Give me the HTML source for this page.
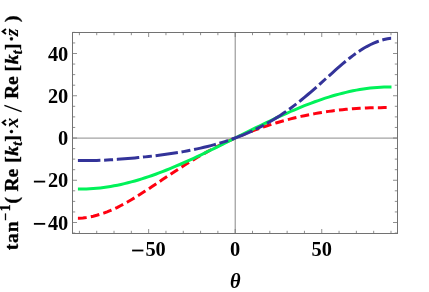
<!DOCTYPE html>
<html><head><meta charset="utf-8"><style>
html,body{margin:0;padding:0;background:#fff;}
svg{display:block;will-change:transform}
text{font-family:"Liberation Serif",serif;font-weight:bold;fill:#000;}
</style></head><body>
<svg width="429" height="292" viewBox="0 0 429 292">
<rect width="429" height="292" fill="#fff"/>
<path d="M72.5,138.2H397.5M235.25,32.5V233.5" stroke="#a4a4a4" stroke-width="1.3" fill="none"/>
<path d="M77.91,218.30 L79.41,218.30 L82.87,217.98 L86.33,217.52 L89.80,216.92 L93.26,216.18 L96.72,215.30 L100.18,214.28 L103.64,213.13 L107.11,211.85 L110.57,210.44 L114.03,208.91 L117.49,207.28 L120.95,205.53 L124.42,203.69 L127.88,201.76 L131.34,199.75 L134.80,197.67 L138.26,195.53 L141.73,193.34 L145.19,191.11 L148.65,188.84 L152.11,186.54 L155.57,184.23 L159.04,181.92 L162.50,179.60 L165.96,177.28 L169.42,174.98 L172.88,172.70 L176.35,170.44 L179.81,168.20 L183.27,166.00 L186.73,163.83 L190.19,161.70 L193.66,159.61 L197.12,157.56 L200.58,155.55 L204.04,153.59 L207.50,151.67 L210.97,149.80 L214.43,147.98 L217.89,146.20 L221.35,144.47 L224.81,142.78 L228.28,141.14 L231.74,139.55 L235.20,138.00 L238.66,136.50 L242.12,135.03 L245.59,133.62 L249.05,132.24 L252.51,130.91 L255.97,129.62 L259.43,128.37 L262.90,127.16 L266.36,125.99 L269.82,124.86 L273.28,123.77 L276.74,122.72 L280.21,121.71 L283.67,120.73 L287.13,119.80 L290.59,118.89 L294.05,118.03 L297.52,117.20 L300.98,116.41 L304.44,115.66 L307.90,114.94 L311.36,114.26 L314.83,113.61 L318.29,113.00 L321.75,112.43 L325.21,111.88 L328.67,111.38 L332.14,110.90 L335.60,110.47 L339.06,110.06 L342.52,109.69 L345.98,109.35 L349.45,109.04 L352.91,108.77 L356.37,108.53 L359.83,108.31 L363.29,108.13 L366.76,107.98 L370.22,107.85 L373.68,107.75 L377.14,107.68 L380.60,107.63 L384.07,107.61 L387.53,107.61 L390.39,107.63" stroke="#ff0010" stroke-width="3" fill="none" stroke-dasharray="8.8 4.2"/>
<path d="M77.91,189.11 L79.41,189.11 L82.87,189.08 L86.33,188.98 L89.80,188.81 L93.26,188.58 L96.72,188.29 L100.18,187.93 L103.64,187.50 L107.11,187.01 L110.57,186.46 L114.03,185.85 L117.49,185.18 L120.95,184.45 L124.42,183.66 L127.88,182.82 L131.34,181.92 L134.80,180.96 L138.26,179.96 L141.73,178.91 L145.19,177.80 L148.65,176.65 L152.11,175.46 L155.57,174.22 L159.04,172.94 L162.50,171.62 L165.96,170.27 L169.42,168.87 L172.88,167.45 L176.35,165.99 L179.81,164.50 L183.27,162.98 L186.73,161.43 L190.19,159.86 L193.66,158.27 L197.12,156.66 L200.58,155.02 L204.04,153.37 L207.50,151.70 L210.97,150.02 L214.43,148.33 L217.89,146.62 L221.35,144.91 L224.81,143.19 L228.28,141.46 L231.74,139.73 L235.20,138.00 L238.66,136.27 L242.12,134.54 L245.59,132.81 L249.05,131.09 L252.51,129.38 L255.97,127.67 L259.43,125.98 L262.90,124.30 L266.36,122.63 L269.82,120.98 L273.28,119.34 L276.74,117.73 L280.21,116.14 L283.67,114.57 L287.13,113.02 L290.59,111.50 L294.05,110.01 L297.52,108.55 L300.98,107.13 L304.44,105.73 L307.90,104.38 L311.36,103.06 L314.83,101.78 L318.29,100.54 L321.75,99.35 L325.21,98.20 L328.67,97.09 L332.14,96.04 L335.60,95.04 L339.06,94.08 L342.52,93.18 L345.98,92.34 L349.45,91.55 L352.91,90.82 L356.37,90.15 L359.83,89.54 L363.29,88.99 L366.76,88.50 L370.22,88.07 L373.68,87.71 L377.14,87.42 L380.60,87.19 L384.07,87.02 L387.53,86.92 L390.99,86.89 L391.49,86.89" stroke="#00f259" stroke-width="3" fill="none"/>
<path d="M77.91,160.53 L79.41,160.53 L82.87,160.60 L86.33,160.61 L89.80,160.59 L93.26,160.53 L96.72,160.44 L100.18,160.31 L103.64,160.16 L107.11,159.99 L110.57,159.79 L114.03,159.57 L117.49,159.34 L120.95,159.08 L124.42,158.81 L127.88,158.53 L131.34,158.23 L134.80,157.91 L138.26,157.58 L141.73,157.24 L145.19,156.87 L148.65,156.50 L152.11,156.10 L155.57,155.69 L159.04,155.26 L162.50,154.80 L165.96,154.33 L169.42,153.84 L172.88,153.32 L176.35,152.77 L179.81,152.20 L183.27,151.61 L186.73,150.98 L190.19,150.32 L193.66,149.62 L197.12,148.90 L200.58,148.13 L204.04,147.33 L207.50,146.48 L210.97,145.59 L214.43,144.66 L217.89,143.68 L221.35,142.65 L224.81,141.57 L228.28,140.44 L231.74,139.25 L235.20,138.00 L238.66,136.69 L242.12,135.32 L245.59,133.89 L249.05,132.38 L252.51,130.81 L255.97,129.16 L259.43,127.44 L262.90,125.64 L266.36,123.76 L269.82,121.80 L273.28,119.75 L276.74,117.62 L280.21,115.40 L283.67,113.09 L287.13,110.69 L290.59,108.20 L294.05,105.63 L297.52,102.97 L300.98,100.23 L304.44,97.41 L307.90,94.51 L311.36,91.55 L314.83,88.54 L318.29,85.47 L321.75,82.37 L325.21,79.25 L328.67,76.13 L332.14,73.01 L335.60,69.93 L339.06,66.89 L342.52,63.92 L345.98,61.04 L349.45,58.26 L352.91,55.60 L356.37,53.09 L359.83,50.73 L363.29,48.55 L366.76,46.55 L370.22,44.75 L373.68,43.14 L377.14,41.75 L380.60,40.56 L384.07,39.58 L387.53,38.81 L390.99,38.23 L391.49,38.23" stroke="#333399" stroke-width="3" fill="none" stroke-dasharray="22.5 3.7 9 3.75"/>
<rect x="72.5" y="32.5" width="325.0" height="201.0" fill="none" stroke="#727272" stroke-width="1"/>
<path d="M79.41,233.5v-2.7M79.41,32.5v2.7M96.72,233.5v-2.7M96.72,32.5v2.7M114.03,233.5v-2.7M114.03,32.5v2.7M131.34,233.5v-2.7M131.34,32.5v2.7M148.65,233.5v-4.5M148.65,32.5v4.5M165.96,233.5v-2.7M165.96,32.5v2.7M183.27,233.5v-2.7M183.27,32.5v2.7M200.58,233.5v-2.7M200.58,32.5v2.7M217.89,233.5v-2.7M217.89,32.5v2.7M235.20,233.5v-4.5M235.20,32.5v4.5M252.51,233.5v-2.7M252.51,32.5v2.7M269.82,233.5v-2.7M269.82,32.5v2.7M287.13,233.5v-2.7M287.13,32.5v2.7M304.44,233.5v-2.7M304.44,32.5v2.7M321.75,233.5v-4.5M321.75,32.5v4.5M339.06,233.5v-2.7M339.06,32.5v2.7M356.37,233.5v-2.7M356.37,32.5v2.7M373.68,233.5v-2.7M373.68,32.5v2.7M390.99,233.5v-2.7M390.99,32.5v2.7M72.5,233.06h2.7M397.5,233.06h-2.7M72.5,222.50h4.5M397.5,222.50h-4.5M72.5,211.94h2.7M397.5,211.94h-2.7M72.5,201.38h2.7M397.5,201.38h-2.7M72.5,190.81h2.7M397.5,190.81h-2.7M72.5,180.25h4.5M397.5,180.25h-4.5M72.5,169.69h2.7M397.5,169.69h-2.7M72.5,159.12h2.7M397.5,159.12h-2.7M72.5,148.56h2.7M397.5,148.56h-2.7M72.5,138.00h4.5M397.5,138.00h-4.5M72.5,127.44h2.7M397.5,127.44h-2.7M72.5,116.88h2.7M397.5,116.88h-2.7M72.5,106.31h2.7M397.5,106.31h-2.7M72.5,95.75h4.5M397.5,95.75h-4.5M72.5,85.19h2.7M397.5,85.19h-2.7M72.5,74.62h2.7M397.5,74.62h-2.7M72.5,64.06h2.7M397.5,64.06h-2.7M72.5,53.50h4.5M397.5,53.50h-4.5M72.5,42.94h2.7M397.5,42.94h-2.7M72.5,32.38h2.7M397.5,32.38h-2.7" stroke="#727272" stroke-width="0.8" fill="none"/>
<g font-size="20.4px">
<text x="68.3" y="60.65" text-anchor="end">40</text>
<text x="68.3" y="102.90" text-anchor="end">20</text>
<text x="68.3" y="145.15" text-anchor="end">0</text>
<text x="68.3" y="187.40" text-anchor="end">20</text><rect x="33.9" y="180.70" width="11.3" height="1.8"/>
<text x="68.3" y="229.65" text-anchor="end">40</text><rect x="33.9" y="222.95" width="11.3" height="1.8"/>
<rect x="132.10" y="249.60" width="11.3" height="1.8"/><text x="145.40" y="256.3">50</text>
<text x="230.10" y="256.3">0</text>
<text x="311.50" y="256.3">50</text>
<text x="235.3" y="287.6" font-style="italic" text-anchor="middle">θ</text>
</g>
<g transform="translate(18.2,250) rotate(-90)" font-size="19.5px" stroke="#000" stroke-width="0.35">
<text x="-0.3" y="0" letter-spacing="0.9">tan</text>
<text x="29.2" y="-8.5" font-size="13.6px" letter-spacing="1.8">−1</text>
<text x="46.6" y="0">(</text>
<text x="58.4" y="0">Re <tspan dx="1.2">[</tspan><tspan font-style="italic" dx="0.6">k</tspan><tspan dy="3.7" dx="0.3" font-size="14px" font-style="italic">t</tspan><tspan dy="-3.7" dx="0.0">]</tspan></text>
<text x="115.2" y="0">·</text>
<text x="122.4" y="0" font-style="italic" stroke-width="0.1">x</text>
<path d="M124.7,-12.2 L127.4,-15.5 L130.1,-12.2" fill="none" stroke="#000" stroke-width="1.9"/>
<path d="M138.4,3.4 L144.6,-13.8" fill="none" stroke="#000" stroke-width="1.5"/>
<text x="151.0" y="0">Re <tspan dx="0">[</tspan><tspan font-style="italic" dx="0.6">k</tspan><tspan dy="3.7" dx="0.3" font-size="14px" font-style="italic">t</tspan><tspan dy="-3.7" dx="0.3999999999999999">]</tspan></text>
<text x="208.0" y="0">·</text>
<text x="213.7" y="0" font-style="italic" stroke-width="0.1">z</text>
<path d="M215.9,-12.2 L218.4,-15.5 L220.9,-12.2" fill="none" stroke="#000" stroke-width="1.9"/>
<text x="227.9" y="0">)</text>
</g>
</svg>
</body></html>
